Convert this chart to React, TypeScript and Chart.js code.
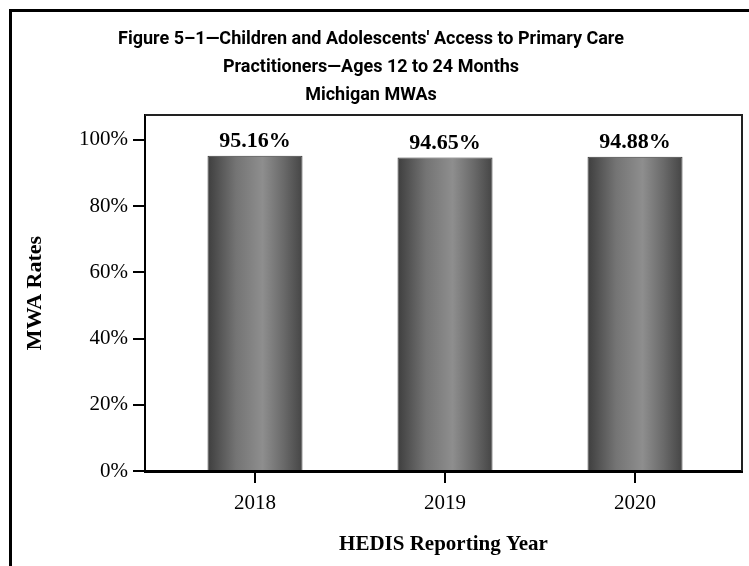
import React, { useEffect, useRef } from "react";
import { Chart, registerables } from "chart.js";

Chart.register(...registerables);

const titleLines = [
  "Figure 5\u20131\u2014Children and Adolescents' Access to Primary Care",
  "Practitioners\u2014Ages 12 to 24 Months",
  "Michigan MWAs",
];
const years = ["2018", "2019", "2020"];
const rates = [95.16, 94.65, 94.88];
const yTicks = [0, 20, 40, 60, 80, 100];
const xTitle = "HEDIS Reporting Year";
const yTitle = "MWA Rates";

const SERIF = "'Liberation Serif', 'Times New Roman', serif";

const decorPlugin = {
  id: "decor",
  beforeDraw(chart: any) {
    const ctx = chart.ctx;
    ctx.save();
    ctx.fillStyle = "#fff";
    ctx.fillRect(0, 0, chart.width, chart.height);
    ctx.strokeStyle = "#000";
    ctx.lineWidth = 3;
    ctx.beginPath();
    ctx.moveTo(10.5, chart.height);
    ctx.lineTo(10.5, 10.5);
    ctx.lineTo(chart.width, 10.5);
    ctx.stroke();
    ctx.restore();
  },
  afterDraw(chart: any) {
    const ctx = chart.ctx;
    const a = chart.chartArea;
    ctx.save();
    ctx.strokeStyle = "#222";
    ctx.lineWidth = 2;
    ctx.beginPath();
    ctx.moveTo(a.left, a.top);
    ctx.lineTo(a.right, a.top);
    ctx.lineTo(a.right, a.bottom);
    ctx.stroke();
    const meta = chart.getDatasetMeta(0);
    ctx.fillStyle = "#000";
    ctx.font = "bold 22px " + SERIF;
    ctx.textAlign = "center";
    ctx.textBaseline = "alphabetic";
    meta.data.forEach((bar: any, i: number) => {
      ctx.fillText(rates[i].toFixed(2) + "%", bar.x, bar.y - 9);
    });
    ctx.restore();
  },
};

export default function App() {
  const ref = useRef<HTMLCanvasElement | null>(null);

  useEffect(() => {
    if (!ref.current) return;
    const chart = new Chart(ref.current, {
      type: "bar",
      data: {
        datasets: [
          {
            data: rates.map((v, i) => ({ x: i, y: v })),
            backgroundColor: (c: any) => {
              const ch = c.chart;
              const xs = ch.scales && ch.scales.x;
              if (!xs || c.dataIndex === undefined) return "#666";
              const cx = xs.getPixelForValue(c.dataIndex);
              const half = (xs.getPixelForValue(1) - xs.getPixelForValue(0)) * 0.25;
              if (!isFinite(cx) || !isFinite(half) || half <= 0) return "#666";
              const g = ch.ctx.createLinearGradient(cx - half, 0, cx + half, 0);
              g.addColorStop(0, "#3e3e3e");
              g.addColorStop(0.3, "#747474");
              g.addColorStop(0.58, "#8e8e8e");
              g.addColorStop(0.8, "#6a6a6a");
              g.addColorStop(1, "#454545");
              return g;
            },
            borderColor: "#3a3a3a",
            borderWidth: 1,
            categoryPercentage: 1,
            barPercentage: 0.5,
          },
        ],
      },
      options: {
        responsive: false,
        animation: false,
        layout: { padding: { left: 0, right: 7, top: 0, bottom: 0 } },
        plugins: {
          legend: { display: false },
          tooltip: { enabled: false },
          title: {
            display: true,
            text: titleLines,
            color: "#000",
            font: { family: "Roboto, 'Liberation Sans', sans-serif", size: 18, weight: "bold", lineHeight: "28px" },
            padding: { top: 25, bottom: 6 },
          },
        },
        scales: {
          x: {
            type: "linear",
            offset: false,
            min: -0.579,
            max: 2.563,
            afterBuildTicks: (s: any) => {
              s.ticks = years.map((_, i) => ({ value: i }));
            },
            afterFit: (s: any) => {
              s.height = 95;
            },
            ticks: {
              callback: (v: any) => years[v] ?? "",
              color: "#000",
              font: { family: SERIF, size: 21 },
              padding: 8,
              maxRotation: 0,
            },
            grid: { offset: false, drawOnChartArea: false, drawTicks: true, tickLength: 12, color: "#000", lineWidth: 2 },
            border: { display: true, color: "#000", width: 3 },
            title: {
              display: true,
              text: xTitle,
              color: "#000",
              font: { family: SERIF, size: 21, weight: "bold", lineHeight: 1.2 },
              padding: { top: 0, bottom: 9 },
            },
          },
          y: {
            min: 0,
            max: 107.5,
            afterBuildTicks: (s: any) => {
              s.ticks = yTicks.map((v) => ({ value: v }));
            },
            afterFit: (s: any) => {
              s.width = 145;
            },
            ticks: {
              callback: (v: any) => v + "%",
              color: "#000",
              font: { family: SERIF, size: 21 },
              padding: 5,
            },
            grid: { drawOnChartArea: false, drawTicks: true, tickLength: 12, color: "#000", lineWidth: 2 },
            border: { display: true, color: "#000", width: 2 },
            title: {
              display: true,
              text: yTitle,
              color: "#000",
              font: { family: SERIF, size: 22, weight: "bold", lineHeight: 1.2 },
              padding: { top: 22, bottom: 0 },
            },
          },
        },
      },
      plugins: [decorPlugin],
    } as any);
    return () => chart.destroy();
  }, []);

  return (
    <div style={{ position: "fixed", left: 0, top: 0, width: 749, height: 566, background: "#fff" }}>
      <canvas ref={ref} width={749} height={566} style={{ display: "block" }} />
    </div>
  );
}
